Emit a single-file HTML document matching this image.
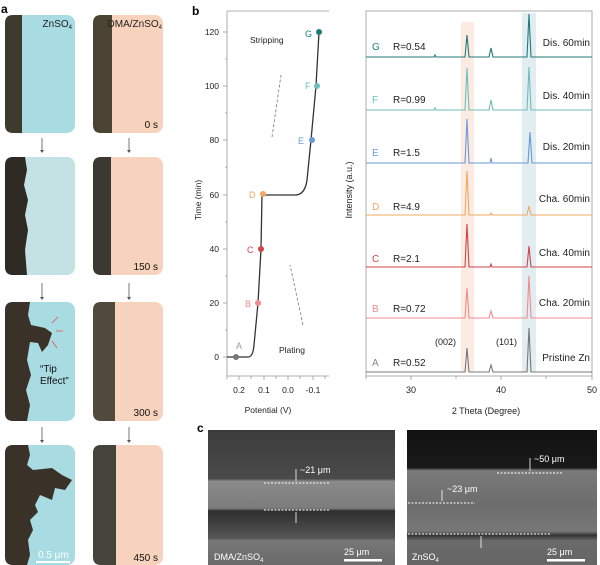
<!DOCTYPE html>
<html><head><meta charset="utf-8"><style>
body{margin:0;background:#fff;}
svg{display:block;font-family:"Liberation Sans",sans-serif;}
</style></head><body>
<svg width="600" height="565" viewBox="0 0 600 565" xmlns="http://www.w3.org/2000/svg">
<defs>
<linearGradient id="semL" x1="0" y1="0" x2="0" y2="1">
<stop offset="0" stop-color="#3c3c3c"/><stop offset="0.36" stop-color="#4a4a4a"/>
<stop offset="0.38" stop-color="#8a8a8a"/><stop offset="0.58" stop-color="#7c7c7c"/>
<stop offset="0.6" stop-color="#2e2e2e"/><stop offset="0.8" stop-color="#555"/>
<stop offset="0.82" stop-color="#777"/><stop offset="1" stop-color="#6a6a6a"/></linearGradient>
<linearGradient id="semR" x1="0" y1="0" x2="0" y2="1">
<stop offset="0" stop-color="#111"/><stop offset="0.28" stop-color="#1a1a1a"/>
<stop offset="0.3" stop-color="#7a7a7a"/><stop offset="0.55" stop-color="#6d6d6d"/>
<stop offset="0.75" stop-color="#777"/><stop offset="0.78" stop-color="#333"/>
<stop offset="0.82" stop-color="#6a6a6a"/><stop offset="1" stop-color="#666"/></linearGradient>
</defs>
<!-- panel a -->
<text x="1" y="13" font-size="12" font-weight="bold">a</text>
<g>
<rect x="5" y="15" width="70" height="118" rx="8" fill="#a8dce2"/>
<path d="M13 15 H22 V133 H13 Q5 133 5 125 V23 Q5 15 13 15Z" fill="#3f3a2e"/>
<rect x="93" y="15" width="70" height="118" rx="8" fill="#f7d2bc"/>
<path d="M101 15 H112 V133 H101 Q93 133 93 125 V23 Q93 15 101 15Z" fill="#4a4232"/>
<text x="72" y="27" font-size="10" text-anchor="end" fill="#222">ZnSO<tspan font-size="6" dy="2">4</tspan></text>
<text x="162" y="27" font-size="10" text-anchor="end" fill="#222">DMA/ZnSO<tspan font-size="6" dy="2">4</tspan></text>
<text x="158" y="128" font-size="10" text-anchor="end" fill="#111">0 s</text>
<rect x="5" y="157" width="70" height="118" rx="8" fill="#c4e2e4"/>
<path d="M13 157 H25 L27 170 L24 185 L28 200 L25 215 L28 230 L25 250 L27 275 H13 Q5 275 5 267 V165 Q5 157 13 157Z" fill="#2f2b24"/>
<rect x="93" y="157" width="70" height="118" rx="8" fill="#f7d2bc"/>
<path d="M101 157 H111 V275 H101 Q93 275 93 267 V165 Q93 157 101 157Z" fill="#3a3a32"/>
<text x="158" y="270" font-size="10" text-anchor="end" fill="#111">150 s</text>
<rect x="5" y="302" width="70" height="119" rx="8" fill="#a8dce2"/>
<path d="M13 302 H30 L28 315 L31 325 L45 328 L52 333 L48 345 L42 352 L38 343 L30 342 L27 360 L31 375 L26 390 L30 405 L27 421 H13 Q5 421 5 413 V310 Q5 302 13 302Z" fill="#3a3128"/>
<rect x="93" y="302" width="70" height="119" rx="8" fill="#f7d2bc"/>
<path d="M101 302 H115 V421 H101 Q93 421 93 413 V310 Q93 302 101 302Z" fill="#4f4a3c"/>
<text x="40" y="372" font-size="10" fill="#111">“Tip</text>
<text x="40" y="384" font-size="10" fill="#111">Effect”</text>
<g stroke="#e05555" stroke-width="0.8"><line x1="58" y1="317" x2="52" y2="323"/><line x1="63" y1="331" x2="56" y2="331"/><line x1="57" y1="348" x2="52" y2="341"/></g>
<text x="158" y="416" font-size="10" text-anchor="end" fill="#111">300 s</text>
<rect x="5" y="445" width="70" height="120" rx="8" fill="#a8dce2"/>
<path d="M13 445 H28 L30 455 L27 465 L33 470 L52 468 L62 475 L72 480 L65 490 L55 488 L52 500 L40 495 L35 505 L38 512 L30 520 L33 530 L28 540 L30 555 L27 565 H13 Q5 565 5 557 V453 Q5 445 13 445Z" fill="#3a3128"/>
<rect x="93" y="445" width="70" height="120" rx="8" fill="#f7d2bc"/>
<path d="M101 445 H116 V565 H101 Q93 565 93 557 V453 Q93 445 101 445Z" fill="#45433a"/>
<text x="38" y="558" font-size="10" fill="#fff">0.5 μm</text>
<rect x="36" y="561" width="34" height="2" fill="#fff"/>
<text x="158" y="561" font-size="10" text-anchor="end" fill="#111">450 s</text>
<g stroke="#555" stroke-width="0.8"><line x1="42" y1="138" x2="42" y2="150"/><line x1="129" y1="138" x2="129" y2="150"/><line x1="42" y1="283" x2="42" y2="297"/><line x1="129" y1="283" x2="129" y2="297"/><line x1="42" y1="427" x2="42" y2="440"/><line x1="129" y1="427" x2="129" y2="440"/></g>
<g fill="#555"><path d="M40 150 L44 150 L42 153Z"/><path d="M127 150 L131 150 L129 153Z"/><path d="M40 297 L44 297 L42 300Z"/><path d="M127 297 L131 297 L129 300Z"/><path d="M40 440 L44 440 L42 443Z"/><path d="M127 440 L131 440 L129 443Z"/></g>
</g>
<!-- panel b -->
<text x="192" y="15" font-size="12" font-weight="bold">b</text>
<g font-size="8.5" fill="#222">
<path d="M227 11 H329 M227 11 V376 H329" fill="none" stroke="#999" stroke-width="0.8"/>
<g stroke="#999" stroke-width="0.8">
<line x1="227" y1="32" x2="223" y2="32"/><line x1="227" y1="86" x2="223" y2="86"/><line x1="227" y1="140" x2="223" y2="140"/><line x1="227" y1="195" x2="223" y2="195"/><line x1="227" y1="249" x2="223" y2="249"/><line x1="227" y1="303" x2="223" y2="303"/><line x1="227" y1="357" x2="223" y2="357"/>
<line x1="227" y1="59" x2="225" y2="59"/><line x1="227" y1="113" x2="225" y2="113"/><line x1="227" y1="167" x2="225" y2="167"/><line x1="227" y1="222" x2="225" y2="222"/><line x1="227" y1="276" x2="225" y2="276"/><line x1="227" y1="330" x2="225" y2="330"/>
<line x1="239" y1="376" x2="239" y2="380"/><line x1="264" y1="376" x2="264" y2="380"/><line x1="288" y1="376" x2="288" y2="380"/><line x1="313" y1="376" x2="313" y2="380"/>
<line x1="227" y1="376" x2="227" y2="379"/><line x1="251" y1="376" x2="251" y2="379"/><line x1="276" y1="376" x2="276" y2="379"/><line x1="300" y1="376" x2="300" y2="379"/><line x1="325" y1="376" x2="325" y2="379"/>
</g>
<text x="219" y="35" text-anchor="end">120</text><text x="219" y="89" text-anchor="end">100</text><text x="219" y="143" text-anchor="end">80</text><text x="219" y="198" text-anchor="end">60</text><text x="219" y="252" text-anchor="end">40</text><text x="219" y="306" text-anchor="end">20</text><text x="219" y="360" text-anchor="end">0</text>
<text x="239" y="393" text-anchor="middle">0.2</text><text x="264" y="393" text-anchor="middle">0.1</text><text x="288" y="393" text-anchor="middle">0.0</text><text x="313" y="393" text-anchor="middle">-0.1</text>
<text x="268" y="413" text-anchor="middle">Potential (V)</text>
<text transform="translate(201,200) rotate(-90)" text-anchor="middle">Time (min)</text>
<text x="250" y="43">Stripping</text>
<text x="279" y="353">Plating</text>
</g>
<g stroke="#777" stroke-width="0.8" stroke-dasharray="3,2" fill="none"><line x1="272" y1="137" x2="281" y2="75"/><line x1="303" y1="325" x2="290" y2="265"/></g>
<path d="M227 357 H248 Q253 357 254 345 L258 303 L261 249 L262 195 H295 Q305 195 307 180 L311 140 L316 86 L319 32" fill="none" stroke="#333" stroke-width="1.3"/>
<g font-size="9">
<circle cx="236" cy="357" r="3" fill="#777"/><text x="236" y="349" fill="#999">A</text>
<circle cx="258" cy="303" r="3" fill="#f08a90"/><text x="245" y="307" fill="#f08a90">B</text>
<circle cx="261" cy="249" r="3" fill="#d0454a"/><text x="247" y="253" fill="#d0454a">C</text>
<circle cx="263" cy="194" r="3" fill="#f0a860"/><text x="249" y="198" fill="#f0a860">D</text>
<circle cx="312" cy="140" r="3" fill="#6a9ad6"/><text x="298" y="144" fill="#6a9ad6">E</text>
<circle cx="317" cy="86" r="3" fill="#6dbdbd"/><text x="305" y="89" fill="#6dbdbd">F</text>
<circle cx="319" cy="32" r="3" fill="#1d7b78"/><text x="305" y="37" fill="#1d7b78">G</text>
</g>
<!-- XRD -->
<rect x="461" y="22" width="13" height="350" fill="#fbe6dc" opacity="0.8"/>
<rect x="522" y="13" width="14" height="359" fill="#dbe9ee" opacity="0.8"/>
<rect x="366" y="11" width="226" height="365" fill="none" stroke="#999" stroke-width="0.8"/>
<g stroke="#999" stroke-width="0.8"><line x1="411" y1="376" x2="411" y2="380"/><line x1="501" y1="376" x2="501" y2="380"/><line x1="592" y1="376" x2="592" y2="380"/><line x1="456" y1="376" x2="456" y2="379"/><line x1="546" y1="376" x2="546" y2="379"/><line x1="366" y1="376" x2="366" y2="379"/></g>
<g font-size="9" fill="#222">
<text x="411" y="393" text-anchor="middle">30</text><text x="501" y="393" text-anchor="middle">40</text><text x="592" y="393" text-anchor="middle">50</text>
<text x="486" y="414" text-anchor="middle">2 Theta (Degree)</text>
<text transform="translate(352,190) rotate(-90)" text-anchor="middle">Intensity (a.u.)</text>
<text x="435" y="345">(002)</text><text x="496" y="345">(101)</text>
</g>
<g fill="none" stroke-width="1.1">
<path d="M366 57 H434 L435 55 L436 57 H465 L467 35 L469 57 H489 L491 48 L493 57 H527 L529 14 L531 57 H592" stroke="#1d7b78"/>
<path d="M366 110 H434 L435 108 L436 110 H465 L467 68 L469 110 H489 L491 100 L493 110 H527 L529 67 L531 110 H592" stroke="#6dbdbd"/>
<path d="M366 163 H465 L467 119 L469 163 H490 L491 158 L492 163 H528 L530 132 L532 163 H592" stroke="#6a9ad6"/>
<path d="M366 215 H465 L467 171 L469 215 H490 L491 213 L492 215 H527 L529 206 L531 215 H592" stroke="#f0a860"/>
<path d="M366 267 H465 L467 224 L469 267 H490 L491 264 L492 267 H527 L529 246 L531 267 H592" stroke="#d0454a"/>
<path d="M366 318 H465 L467 288 L469 318 H489 L491 311 L493 318 H527 L529 276 L531 318 H592" stroke="#f08a90"/>
<path d="M366 372 H465 L467 348 L469 372 H489 L491 365 L493 372 H527 L529 328 L531 372 H592" stroke="#777"/>
</g>
<g font-size="10" fill="#222">
<text x="372" y="50" fill="#1d7b78">G</text><text x="393" y="50">R=0.54</text><text x="590" y="46" text-anchor="end">Dis. 60min</text>
<text x="372" y="103" fill="#6dbdbd">F</text><text x="393" y="103">R=0.99</text><text x="590" y="99" text-anchor="end">Dis. 40min</text>
<text x="372" y="156" fill="#6a9ad6">E</text><text x="393" y="156">R=1.5</text><text x="590" y="150" text-anchor="end">Dis. 20min</text>
<text x="372" y="210" fill="#f0a860">D</text><text x="393" y="210">R=4.9</text><text x="590" y="202" text-anchor="end">Cha. 60min</text>
<text x="372" y="262" fill="#d0454a">C</text><text x="393" y="262">R=2.1</text><text x="590" y="256" text-anchor="end">Cha. 40min</text>
<text x="372" y="312" fill="#f08a90">B</text><text x="393" y="312">R=0.72</text><text x="590" y="306" text-anchor="end">Cha. 20min</text>
<text x="372" y="366" fill="#888">A</text><text x="393" y="366">R=0.52</text><text x="590" y="361" text-anchor="end">Pristine Zn</text>
</g>
<!-- panel c -->
<text x="197" y="432" font-size="12" font-weight="bold">c</text>
<rect x="208" y="430" width="187" height="135" fill="url(#semL)"/>
<rect x="407" y="430" width="190" height="135" fill="url(#semR)"/>
<g stroke="#fff" stroke-width="0.9" stroke-dasharray="2,1.5" fill="none">
<line x1="264" y1="483" x2="330" y2="483"/><line x1="264" y1="510" x2="330" y2="510"/>
<line x1="497" y1="473" x2="562" y2="473"/><line x1="408" y1="503" x2="475" y2="503"/><line x1="408" y1="534" x2="550" y2="534"/>
</g>
<g stroke="#fff" stroke-width="0.8"><line x1="296" y1="469" x2="296" y2="481"/><line x1="296" y1="512" x2="296" y2="523"/><line x1="530" y1="458" x2="530" y2="471"/><line x1="442" y1="490" x2="442" y2="501"/><line x1="481" y1="536" x2="481" y2="548"/></g>
<g font-size="9" fill="#fff">
<text x="300" y="473">~21 μm</text><text x="534" y="462">~50 μm</text><text x="447" y="492">~23 μm</text>
<text x="214" y="560">DMA/ZnSO<tspan font-size="6" dy="2">4</tspan></text><text x="412" y="560">ZnSO<tspan font-size="6" dy="2">4</tspan></text>
<text x="344" y="555">25 μm</text><text x="547" y="555">25 μm</text>
</g>
<rect x="344" y="559" width="38" height="2.5" fill="#fff"/><rect x="547" y="559" width="38" height="2.5" fill="#fff"/>
</svg>
</body></html>
